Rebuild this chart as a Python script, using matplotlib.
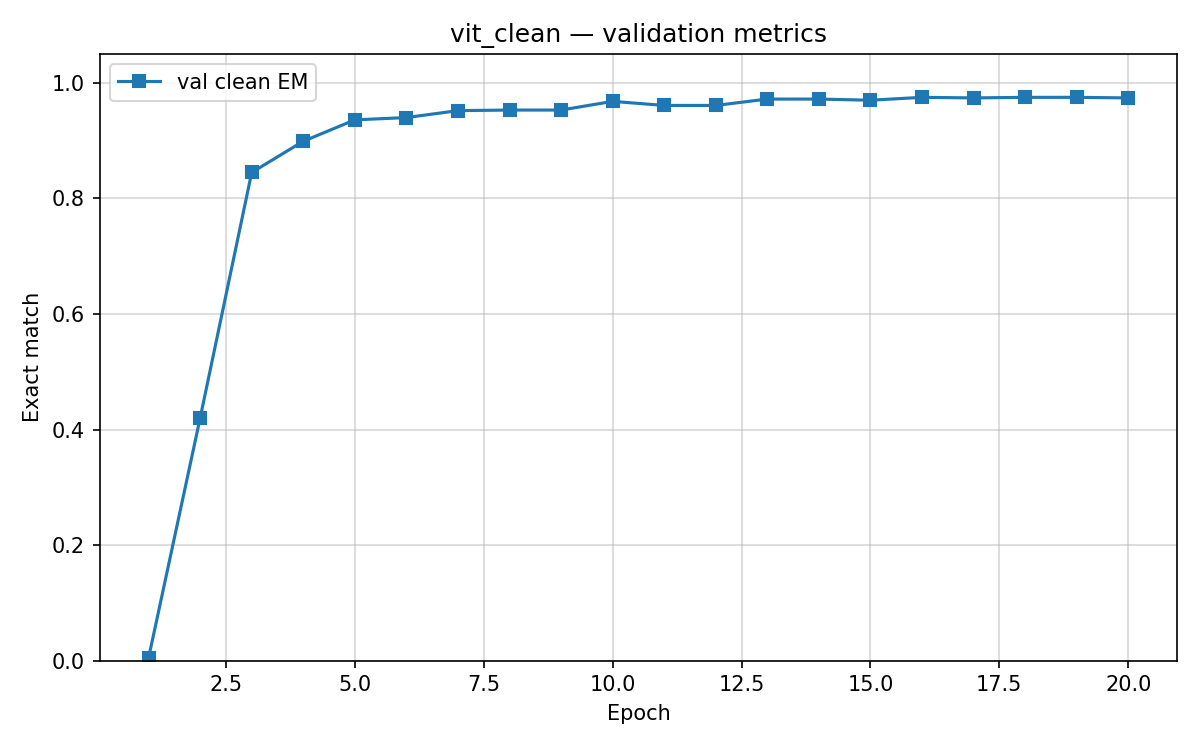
import matplotlib
matplotlib.use("Agg")
import matplotlib.pyplot as plt

# validation exact match per epoch
epochs = list(range(1, 21))
val_clean_em = [0.005, 0.420, 0.845, 0.899, 0.936, 0.940, 0.952, 0.953, 0.953, 0.968,
                0.961, 0.961, 0.972, 0.972, 0.970, 0.975, 0.974, 0.975, 0.975, 0.974]


def main():
    fig, ax = plt.subplots(figsize=(8, 5), dpi=150)
    ax.plot(epochs, val_clean_em, marker='s', label='val clean EM')
    ax.set_xlabel('Epoch')
    ax.set_ylabel('Exact match')
    ax.set_title('vit_clean \u2014 validation metrics')
    ax.set_ylim(0, 1.05)
    ax.grid(True, alpha=0.5)
    ax.legend(loc='upper left')
    fig.subplots_adjust(left=0.083, right=0.981, top=0.928, bottom=0.119)
    fig.savefig('out.png')


if __name__ == '__main__':
    main()
